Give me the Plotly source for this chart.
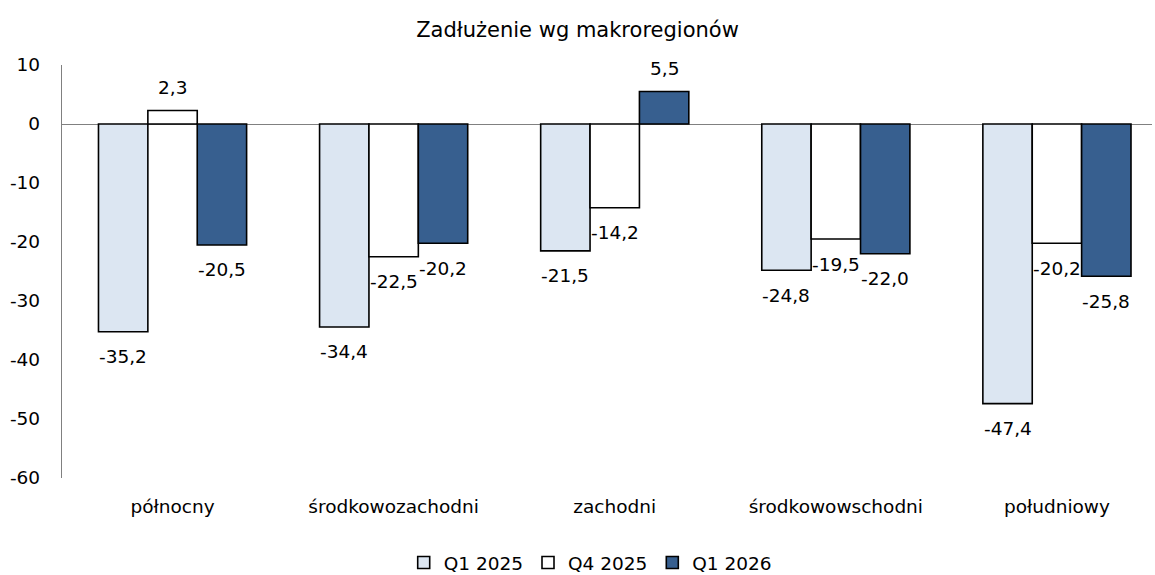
import plotly.graph_objects as go

categories = ["północny", "środkowozachodni", "zachodni", "środkowowschodni", "południowy"]
series_names = ["Q1 2025", "Q4 2025", "Q1 2026"]
q1_2025 = [-35.2, -34.4, -21.5, -24.8, -47.4]
q4_2025 = [2.3, -22.5, -14.2, -19.5, -20.2]
q1_2026 = [-20.5, -20.2, 5.5, -22.0, -25.8]
y_ticks = [10, 0, -10, -20, -30, -40, -50, -60]
y_ticktext = ["10", "0", "-10", "-20", "-30", "-40", "-50", "-60"]

colors = ["#DCE6F2", "#FFFFFF", "#375F8F"]
FONT = "DejaVu Sans"
FS = 18.5
BARGAP = 0.33

def fmt(v):
    return f"{v:.1f}".replace(".", ",")

series = [q1_2025, q4_2025, q1_2026]
fig = go.Figure()
for name, vals, col in zip(series_names, series, colors):
    fig.add_trace(go.Bar(
        x=categories, y=vals, name=name,
        marker=dict(color=col, line=dict(color="#000000", width=1.6)),
        cliponaxis=False,
    ))

# value labels placed via the category axis (index scale) and data values
n = len(series)
barw = (1 - BARGAP) / n
for s, vals in enumerate(series):
    for i, v in enumerate(vals):
        fig.add_annotation(
            x=i + (s - (n - 1) / 2) * barw, y=v, xref="x", yref="y",
            text=fmt(v), showarrow=False, yanchor="middle", xanchor="center",
            yshift=23 if v >= 0 else -25,
            font=dict(family=FONT, size=FS, color="#000000"),
        )

fig.update_layout(
    width=1155, height=575,
    paper_bgcolor="white", plot_bgcolor="white",
    barmode="group", bargap=BARGAP, bargroupgap=0,
    margin=dict(l=62, r=3, t=65, b=97, autoexpand=False),
    font=dict(family=FONT, size=FS, color="#000000"),
    title=dict(text="Zadłużenie wg makroregionów", x=0.5, xanchor="center",
               xref="container", yref="container",
               y=1 - 30 / 575, yanchor="middle", font=dict(family=FONT, size=21)),
    legend=dict(orientation="h", xref="container", yref="container",
                x=0.511, xanchor="center", y=12 / 575, yanchor="middle",
                font=dict(family=FONT, size=FS), traceorder="normal",
                itemwidth=30),
)
fig.update_xaxes(showline=False, showgrid=False, ticks="", range=[-0.5, 4.43],
                 tickfont=dict(family=FONT, size=FS), ticklabelstandoff=15,
                 automargin=False)
fig.update_yaxes(range=[-60, 10], tickvals=y_ticks, ticktext=y_ticktext, showgrid=False,
                 showline=True, linecolor="#808080", linewidth=1.3,
                 zeroline=True, zerolinecolor="#808080", zerolinewidth=1,
                 ticks="", tickfont=dict(family=FONT, size=FS), ticklabelstandoff=17,
                 automargin=False)

fig.write_html("out.html", config={"displayModeBar": False},
               post_script="document.body.style.margin='0';document.body.style.overflow='hidden';")
